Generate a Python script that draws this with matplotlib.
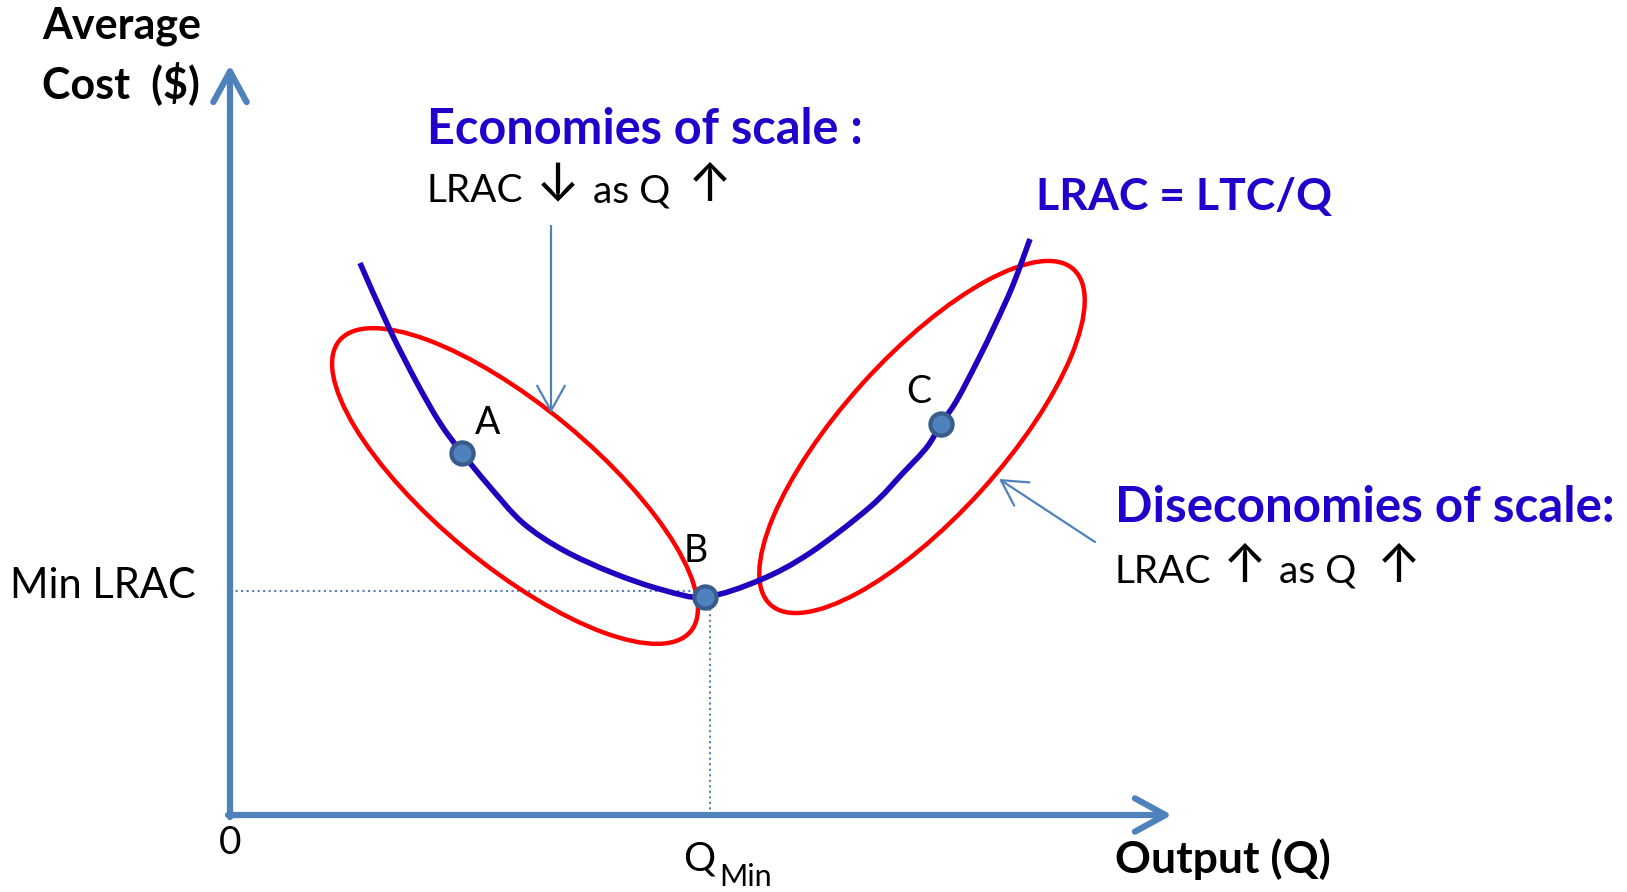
import numpy as np
import matplotlib.pyplot as plt
from matplotlib.patches import Ellipse, PathPatch
from matplotlib.path import Path

# LRAC curve (Q, average cost)
lrac_q = [1.30, 1.60, 1.87, 2.10, 2.32, 2.60, 2.93, 3.33, 3.83, 4.33, 4.75,
          5.30, 5.80, 6.40, 6.73, 6.97, 7.11, 7.27, 7.48, 7.65, 7.83, 8.00]
lrac_ac = [5.52, 4.85, 4.32, 3.92, 3.62, 3.28, 2.92, 2.65, 2.42, 2.25, 2.18,
           2.35, 2.62, 3.08, 3.42, 3.68, 3.91, 4.15, 4.55, 4.90, 5.30, 5.76]

# marked points
pt_names = ['A', 'B', 'C']
pt_q = [2.32, 4.75, 7.11]
pt_ac = [3.62, 2.18, 3.91]

# minimum of LRAC (dotted guides)
q_min = 4.80
ac_min = 2.24

# circled regions: centre, half-axes, tilt
ell_center = [(2.85, 3.29), (6.92, 3.78)]
ell_a = [2.28, 2.26]
ell_b = [0.80, 0.80]
ell_tilt = [-39.6, 47.9]

AXIS = '#4F81BD'
CURVE = '#2200C0'
TITLE = '#2200CC'
FONT = ['Lato', 'DejaVu Sans']
ARROWFONT = ['Inter', 'DejaVu Sans']


def smooth_path(xs, ys):
    # Catmull-Rom through the read points, drawn as cubic Bezier pieces
    p = np.column_stack([xs, ys])
    pts = np.vstack([p[0], p, p[-1]])
    verts = [p[0]]
    codes = [Path.MOVETO]
    for i in range(1, len(pts) - 2):
        c1 = pts[i] + (pts[i + 1] - pts[i - 1]) / 6
        c2 = pts[i + 1] - (pts[i + 2] - pts[i]) / 6
        verts += [c1, c2, pts[i + 1]]
        codes += [Path.CURVE4] * 3
    return Path(verts, codes)


fig = plt.figure(figsize=(16.27, 8.92), dpi=100)
ax = fig.add_axes([0, 0, 1, 1])
ax.set_xlim(-2.30, 13.97)
ax.set_ylim(-0.77, 8.15)
ax.axis('off')

# axes arrows
axis_arrow = dict(arrowstyle='->,head_length=1.1,head_width=0.6', mutation_scale=20,
                  color=AXIS, lw=4.5, capstyle='round', joinstyle='round', shrinkA=0, shrinkB=0)
ax.annotate('', xy=(0, 7.50), xytext=(0, -0.02), arrowprops=axis_arrow)
ax.annotate('', xy=(9.42, 0), xytext=(-0.02, 0), arrowprops=axis_arrow)

# dotted guides
ax.plot([0, q_min], [ac_min, ac_min], ls=':', color=AXIS, lw=1.5)
ax.plot([q_min, q_min], [0, ac_min], ls=':', color=AXIS, lw=1.5)

# ellipses
for c, a, b, t in zip(ell_center, ell_a, ell_b, ell_tilt):
    ax.add_patch(Ellipse(c, 2 * a, 2 * b, angle=t, fill=False, ec='#FF0000', lw=3.2, zorder=3))

# LRAC curve
ax.add_patch(PathPatch(smooth_path(lrac_q, lrac_ac), fill=False, ec=CURVE, lw=4,
                       capstyle='butt', joinstyle='round', zorder=4))
ax.plot(pt_q, pt_ac, 'o', ms=16, mfc='#4F81BD', mec='#385D8A', mew=3, zorder=5)

label_off = [(0.26, 0.30), (-0.09, 0.46), (-0.22, 0.32)]
for n, q, c, (dx, dy) in zip(pt_names, pt_q, pt_ac, label_off):
    ax.text(q + dx, c + dy, n, fontsize=27, family=FONT, ha='center', va='center')

# pointer arrows
thin = dict(arrowstyle='->,head_length=0.9,head_width=0.5', mutation_scale=20,
            color=AXIS, lw=1.6, shrinkA=0, shrinkB=0)
ax.annotate('', xy=(3.21, 4.02), xytext=(3.21, 5.89), arrowprops=thin)
ax.annotate('', xy=(7.69, 3.36), xytext=(8.65, 2.73), arrowprops=thin)

# text
ax.text(-1.88, 7.89, 'Average', fontsize=31, weight='bold', family=FONT, va='center')
ax.text(-1.88, 7.32, 'Cost  ($)', fontsize=31, weight='bold', family=FONT, va='center')
ax.text(1.97, 6.86, 'Economies of scale :', fontsize=35, weight='bold', color=TITLE, family=FONT, va='center')
ax.text(8.06, 6.18, 'LRAC = LTC/Q', fontsize=32, weight='bold', color=TITLE, family=FONT, va='center')
ax.text(8.85, 3.07, 'Diseconomies of scale:', fontsize=35.5, weight='bold', color=TITLE, family=FONT, va='center')


def arrow_line(x0, base, parts):
    # "LRAC <arrow> as Q <arrow>" with wide-headed arrow glyphs
    (lx, w1), (ax_, a1), (sx, w2), (bx, a2) = parts
    ax.text(x0 + lx, base, w1, fontsize=28, family=FONT, va='baseline')
    ax.text(x0 + ax_, base + 0.145, a1, fontsize=38, family=ARROWFONT, ha='center', va='center')
    ax.text(x0 + sx, base, w2, fontsize=28, family=FONT, va='baseline')
    ax.text(x0 + bx, base + 0.145, a2, fontsize=38, family=ARROWFONT, ha='center', va='center')


arrow_line(1.97, 6.13, [(0, 'LRAC'), (1.31, '\u2193'), (1.66, 'as Q'), (2.83, '\u2191')])
arrow_line(8.85, 2.32, [(0, 'LRAC'), (1.30, '\u2191'), (1.64, 'as Q'), (2.84, '\u2191')])

ax.text(-2.20, 2.29, 'Min LRAC', fontsize=30, family=FONT, va='center')
ax.text(0, -0.28, '0', fontsize=28, family=FONT, ha='center', va='center')
ax.text(4.53, -0.44, 'Q', fontsize=29, family=FONT, va='center')
ax.text(4.89, -0.62, 'Min', fontsize=22, family=FONT, va='center')
ax.text(8.85, -0.44, 'Output (Q)', fontsize=32, weight='bold', family=FONT, va='center')

fig.savefig('out.png', dpi=100)
